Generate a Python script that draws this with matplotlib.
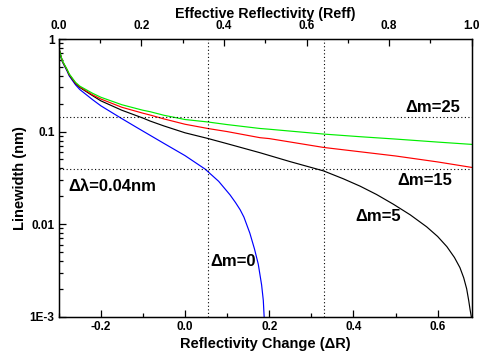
import matplotlib
matplotlib.use("Agg")
import matplotlib.pyplot as plt
from matplotlib.ticker import MultipleLocator, LogLocator, NullFormatter

plt.rcParams['font.family'] = ['Liberation Sans', 'DejaVu Sans']
plt.rcParams['font.weight'] = 'bold'

# Data (ΔR, linewidth in nm)
dr_m0 = [-0.300, -0.295, -0.291, -0.280, -0.275, -0.260, -0.250, -0.220, -0.200, -0.150,
         -0.115, -0.083, -0.050, 0.000, 0.0475, 0.080, 0.107, 0.120, 0.131, 0.140,
         0.154, 0.165, 0.174, 0.182, 0.186, 0.188]
lw_m0 = [0.82, 0.65, 0.565, 0.45, 0.40, 0.32, 0.285, 0.222, 0.190, 0.138,
         0.111, 0.0912, 0.0745, 0.055, 0.0394, 0.0290, 0.0207, 0.0171, 0.0143, 0.0119,
         0.0080, 0.0054, 0.0037, 0.0022, 0.0015, 0.001]

dr_m5 = [-0.300, -0.295, -0.291, -0.280, -0.275, -0.260, -0.250, -0.220, -0.200, -0.150,
         -0.100, -0.083, -0.050, 0.000, 0.054, 0.100, 0.178, 0.250, 0.329,
         0.376, 0.416, 0.455, 0.495, 0.535, 0.574, 0.600, 0.622, 0.640, 0.653,
         0.662, 0.669, 0.674, 0.677, 0.680]
lw_m5 = [0.82, 0.66, 0.57, 0.46, 0.41, 0.33, 0.30, 0.245, 0.215, 0.170,
         0.140, 0.130, 0.115, 0.097, 0.0843, 0.074, 0.0591, 0.0473, 0.0376,
         0.0309, 0.0257, 0.0209, 0.0164, 0.0126, 0.00935, 0.00736, 0.00571, 0.00436, 0.00339,
         0.00263, 0.0020, 0.00148, 0.0012, 0.001]

dr_m15 = [-0.300, -0.295, -0.291, -0.280, -0.275, -0.260, -0.250, -0.220, -0.200, -0.150,
          -0.100, -0.083, -0.050, 0.000, 0.054, 0.100, 0.178, 0.200, 0.329, 0.416,
          0.500, 0.600, 0.681]
lw_m15 = [0.82, 0.66, 0.575, 0.465, 0.415, 0.335, 0.305, 0.25, 0.225, 0.183,
          0.158, 0.151, 0.137, 0.120, 0.108, 0.100, 0.0859, 0.084, 0.0674, 0.0605,
          0.0545, 0.047, 0.041]

dr_m25 = [-0.300, -0.295, -0.291, -0.280, -0.275, -0.260, -0.250, -0.220, -0.200, -0.150,
          -0.100, -0.083, -0.050, 0.000, 0.054, 0.100, 0.178, 0.200, 0.329, 0.416,
          0.500, 0.600, 0.681]
lw_m25 = [0.82, 0.66, 0.58, 0.47, 0.42, 0.34, 0.31, 0.26, 0.235, 0.195,
          0.170, 0.164, 0.150, 0.135, 0.127, 0.119, 0.108, 0.106, 0.094, 0.088,
          0.083, 0.077, 0.0727]

ref_dr = [0.054, 0.329]        # vertical reference lines (ΔR)
ref_lw = [0.142, 0.0393]       # horizontal reference lines (nm)

bottom_ticks = [-0.2, 0.0, 0.2, 0.4, 0.6]
top_ticks = [0.0, 0.2, 0.4, 0.6, 0.8, 1.0]
y_ticks = [1e-3, 1e-2, 1e-1, 1]
y_ticklabels = ['1E-3', '0.01', '0.1', '1']

fig = plt.figure(figsize=(4.79, 3.54), dpi=100)
ax = fig.add_axes([0.1225, 0.1054, 0.8623, 0.7844])

ax.plot(dr_m0, lw_m0, color='#0000ff', lw=0.85)
ax.plot(dr_m5, lw_m5, color='black', lw=0.85)
ax.plot(dr_m15, lw_m15, color='#ff0000', lw=0.85)
ax.plot(dr_m25, lw_m25, color='#00ee00', lw=0.85)

for v in ref_dr:
    ax.axvline(v, color='black', lw=0.8, ls=(0, (1, 2.2)))
for h in ref_lw:
    ax.axhline(h, color='black', lw=0.8, ls=(0, (1, 2.2)))

ax.set_yscale('log')
ax.set_xlim(-0.3, 0.681)
ax.set_ylim(1e-3, 1)
ax.set_xticks(bottom_ticks)
ax.set_xticklabels([f"{t:.1f}" for t in bottom_ticks])
ax.xaxis.set_minor_locator(MultipleLocator(0.1))
ax.set_yticks(y_ticks)
ax.set_yticklabels(y_ticklabels)
ax.yaxis.set_minor_locator(LogLocator(base=10, subs=range(2, 10)))
ax.yaxis.set_minor_formatter(NullFormatter())
ax.tick_params(which='both', direction='in', top=False, right=False,
               labelsize=8.5, width=0.9)
ax.tick_params(which='major', length=5, pad=3)
ax.tick_params(which='minor', length=3)
for s in ax.spines.values():
    s.set_linewidth(1.0)

ax.set_xlabel('Reflectivity Change (ΔR)', fontsize=10.5, fontweight='bold', labelpad=3)
ax.set_ylabel('Linewidth (nm)', fontsize=10.5, fontweight='bold', labelpad=2)

ax2 = ax.twiny()
ax2.set_xlim(0, 1)
ax2.set_xticks(top_ticks)
ax2.set_xticklabels([f"{t:.1f}" for t in top_ticks])
ax2.xaxis.set_minor_locator(MultipleLocator(0.1))
ax2.tick_params(which='both', direction='in', labelsize=8.5, width=0.9)
ax2.tick_params(which='major', length=5, pad=5)
ax2.tick_params(which='minor', length=3)
ax2.set_xlabel('Effective Reflectivity (Reff)', fontsize=10.3, fontweight='bold', labelpad=1.5)

tkw = dict(fontsize=12, fontweight='bold', transform=ax.transAxes)
ax.text(0.972, 0.755, 'Δm=25', ha='right', va='center', **tkw)
ax.text(0.952, 0.490, 'Δm=15', ha='right', va='center', **tkw)
ax.text(0.829, 0.360, 'Δm=5', ha='right', va='center', **tkw)
ax.text(0.423, 0.198, 'Δm=0', ha='center', va='center', **tkw)
ax.text(0.0225, 0.468, 'Δλ=0.04nm', ha='left', va='center', **tkw)

fig.savefig('out.png', dpi=100)
